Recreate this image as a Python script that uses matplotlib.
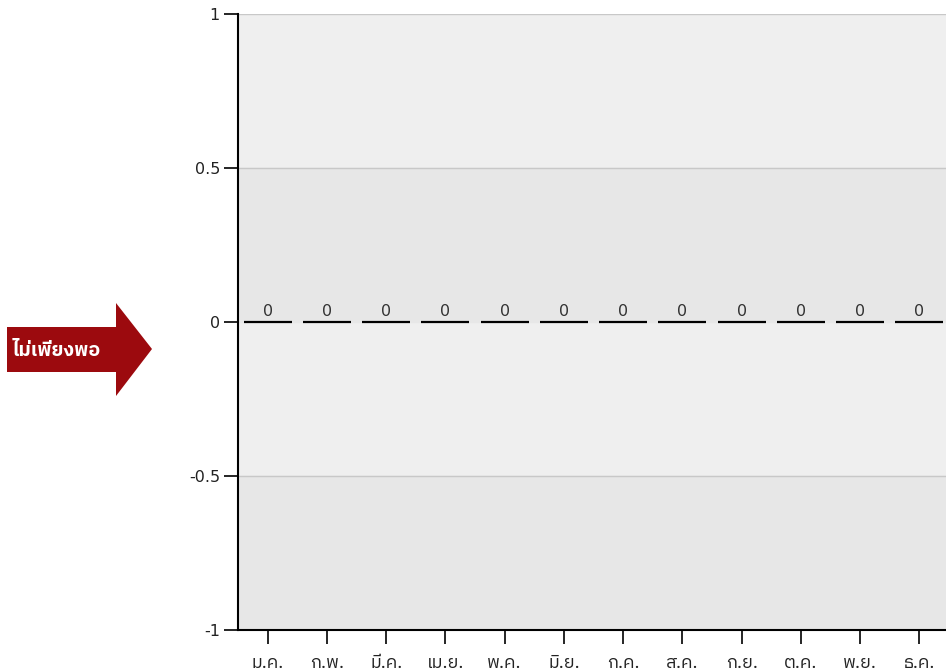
## Monthly chart with zero-valued bars and a Thai arrow label
import numpy as np
import matplotlib
matplotlib.use('Agg')
import matplotlib.pyplot as plt
from matplotlib import font_manager
from matplotlib.patches import Polygon

## Data
months = ['ม.ค.', 'ก.พ.', 'มี.ค.', 'เม.ย.', 'พ.ค.', 'มิ.ย.',
          'ก.ค.', 'ส.ค.', 'ก.ย.', 'ต.ค.', 'พ.ย.', 'ธ.ค.']
values = [0, 0, 0, 0, 0, 0, 0, 0, 0, 0, 0, 0]
y_ticks = [-1, -0.5, 0, 0.5, 1]
y_tick_labels = ['-1', '-0.5', '0', '0.5', '1']
arrow_text = 'ไม่เพียงพอ'

## Look for a font that has Thai glyphs
thai_font = None
try:
    from fontTools.ttLib import TTFont
    names = sorted(font_manager.fontManager.ttflist, key=lambda f: ('Thai' not in f.name, f.name))
    for f in names:
        try:
            cmap = TTFont(f.fname, fontNumber=0, lazy=True).getBestCmap()
        except Exception:
            continue
        if cmap and 0x0E01 in cmap:
            thai_font = f.name
            break
except Exception:
    pass
families = ([thai_font] if thai_font else []) + ['DejaVu Sans']
plt.rcParams['font.family'] = families

W, H = 946, 670
fig = plt.figure(figsize=(W / 100, H / 100), dpi=100)
fig.patch.set_facecolor('white')

# axes in pixel terms: left 238, right ~949 (runs off the image), top 14, bottom 630
ax = fig.add_axes([238 / W, (H - 630) / H, (949 - 238) / W, (630 - 14) / H])
ax.set_facecolor('#efefef')

x = np.arange(len(months))
ax.set_xlim(-0.5, len(months) - 0.5)
ax.set_ylim(-1, 1)

# alternating bands
ax.axhspan(0, 0.5, color='#e7e7e7', zorder=0)
ax.axhspan(-1, -0.5, color='#e7e7e7', zorder=0)
for yv in [0.5, 1, -0.5]:
    ax.axhline(yv, color='#c8c8c8', lw=1, zorder=1)

bars = ax.bar(x, values, width=0.81, color='black', edgecolor='black', linewidth=1.6, zorder=3)
ax.bar_label(bars, labels=[str(v) for v in values], padding=2, fontsize=11.5,
             color='#333333', family=['DejaVu Sans'])

ax.set_yticks(y_ticks)
ax.set_yticklabels(y_tick_labels, family=['DejaVu Sans'])
ax.set_xticks(x)
ax.set_xticklabels(months)
ax.tick_params(axis='y', length=10, width=1.2, color='black', labelsize=11.5, labelcolor='#222222', pad=3)
ax.tick_params(axis='x', length=10, width=1.2, color='black', labelsize=13, labelcolor='#222222', pad=7)

for s in ['top', 'right']:
    ax.spines[s].set_visible(False)
ax.spines['left'].set_linewidth(1.5)
ax.spines['bottom'].set_linewidth(1.5)
ax.spines['left'].set_zorder(4)
ax.spines['bottom'].set_zorder(4)

## Arrow on the left, in figure pixels
pts = [(7, 327), (116, 327), (116, 303), (152, 349), (116, 396), (116, 372), (7, 372)]
arrow = Polygon([(px / W, 1 - py / H) for px, py in pts], closed=True,
                transform=fig.transFigure, facecolor='#9c0a0e', edgecolor='none')
fig.patches.append(arrow)
fig.text(57 / W, 1 - 351 / H, arrow_text, color='white', fontsize=14, fontweight='bold',
         ha='center', va='center')

fig.savefig('out.png', dpi=100)
